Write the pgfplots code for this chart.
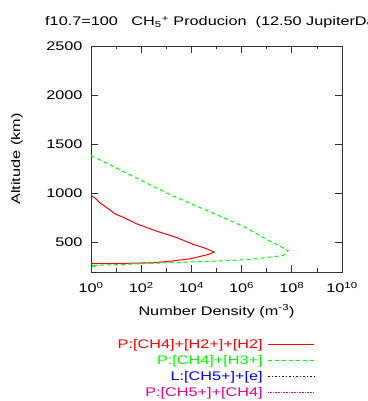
\documentclass[border=0pt]{standalone}
\usepackage{fontspec}
\setmainfont[FakeStretch=1.3]{Liberation Sans}
\usepackage{pgfplots}
\pgfplotsset{compat=1.18}
\begin{document}
\begin{tikzpicture}[x=1pt,y=1pt]
\useasboundingbox (0,0) rectangle (367,401);
\node[anchor=base west,inner sep=0pt,font=\fontsize{12.5}{14}\selectfont] at (45,375)
  {f10.7=100\ \ \ CH\textsubscript{5}\textsuperscript{+} Producion\ \ (12.50 JupiterDays)};
\begin{axis}[
  at={(91pt,129pt)}, anchor=south west,
  scale only axis, width=251pt, height=226pt,
  xmode=log, xmin=1, xmax=1e10, ymin=200, ymax=2500,
  log basis x=10,
  xtick={1,1e2,1e4,1e6,1e8,1e10},
  minor xtick={1e1,1e3,1e5,1e7,1e9},
  xticklabels={10\textsuperscript{0},10\textsuperscript{2},10\textsuperscript{4},10\textsuperscript{6},10\textsuperscript{8},10\textsuperscript{10}},
  ytick={500,1000,1500,2000,2500},
  minor ytick={},
  tick align=inside,
  major tick length=7pt, minor tick length=3.5pt,
  every tick/.style={black!80, line width=0.8pt},
  axis line style={black!80, line width=0.8pt},
  /pgf/number format/assume math mode=true,
  /pgf/number format/1000 sep={},
  ticklabel style={font=\fontsize{12.5}{14}\selectfont},
  xticklabel style={yshift=-7pt},
  yticklabel style={xshift=-5pt},
  xlabel={Number Density (m\textsuperscript{-3})},
  ylabel={Altitude (km)},
  label style={font=\fontsize{12.5}{14}\selectfont},
  xlabel style={at={(axis description cs:0.5,-0.173)}, anchor=center},
  ylabel style={at={(axis description cs:-0.295,0.5)}, anchor=center},
  legend style={at={(0.904,-0.283)}, anchor=north east, draw=none, fill=none,
    font=\fontsize{12.5}{14}\selectfont, row sep=3.4pt, column sep=4pt,
    nodes={inner sep=1pt}},
  legend cell align=right,
  legend plot pos=right,
  legend image code/.code={\draw[#1] plot coordinates {(0pt,0pt) (46pt,0pt)};},
]
\addplot[red, line width=1pt] table {
1 980
1.58 945
2.29 903
3.98 860
9.12 791
19.9 755
66.1 690
158 655
417 615
1000 585
2570 551
5010 520
12000 480
25100 455
40700 436
56200 420
81300 402
46800 378
8710 334
1410 310
302 294
14.5 287
1 284
};
\addlegendentry{\textcolor{red}{P:[CH4]+[H2+]+[H2]}}
\addplot[green, line width=1pt, dash pattern=on 4pt off 3pt] table {
1 1386
1410 987
1.17e6 666
1.35e7 513
7.24e7 419
4.57e7 368
3.89e6 334
6.31e5 320
1410 294
14.5 277
1 266
1.3 258
1 252
};
\addlegendentry{\textcolor{green}{P:[CH4]+[H3+]}}
\addlegendimage{blue, line width=1pt, dash pattern=on 1.5pt off 2pt}
\addlegendentry{\textcolor{blue}{L:[CH5+]+[e]}}
\addlegendimage{magenta, line width=1pt, dash pattern=on 0.8pt off 0.8pt}
\addlegendentry{\textcolor{magenta}{P:[CH5+]+[CH4]}}
\end{axis}
\end{tikzpicture}
\end{document}
